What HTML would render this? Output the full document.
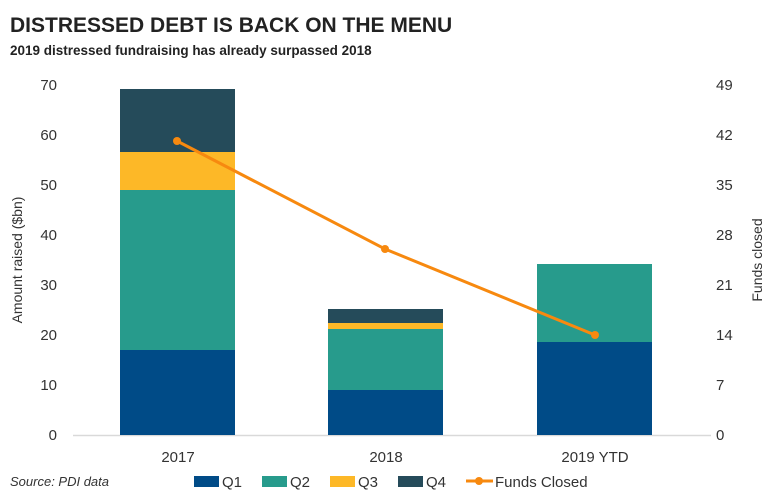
<!DOCTYPE html>
<html><head><style>
body{margin:0;background:#fff;}
svg text{font-family:"Liberation Sans",sans-serif;}
</style></head><body>
<svg width="768" height="497" viewBox="0 0 768 497" xmlns="http://www.w3.org/2000/svg">
<text x="10" y="32" font-size="21" font-weight="bold" fill="#222">DISTRESSED DEBT IS BACK ON THE MENU</text>
<text x="10" y="55" font-size="13.5" font-weight="bold" fill="#222">2019 distressed fundraising has already surpassed 2018</text>
<g font-size="15" fill="#333" text-anchor="end">
<text x="57" y="440">0</text><text x="57" y="390">10</text><text x="57" y="340">20</text><text x="57" y="290">30</text><text x="57" y="240">40</text><text x="57" y="190">50</text><text x="57" y="140">60</text><text x="57" y="90">70</text>
</g>
<g font-size="15" fill="#333" text-anchor="start">
<text x="716" y="440">0</text><text x="716" y="390">7</text><text x="716" y="340">14</text><text x="716" y="290">21</text><text x="716" y="240">28</text><text x="716" y="190">35</text><text x="716" y="140">42</text><text x="716" y="90">49</text>
</g>
<text transform="translate(22,260) rotate(-90)" font-size="14" fill="#333" text-anchor="middle">Amount raised ($bn)</text>
<text transform="translate(762,260) rotate(-90)" font-size="14" fill="#333" text-anchor="middle">Funds closed</text>
<line x1="73" y1="435.5" x2="711" y2="435.5" stroke="#d9d9d9" stroke-width="1.5"/>
<rect x="120" y="350" width="115" height="85" fill="#004b87"/>
<rect x="120" y="190" width="115" height="160" fill="#279b8c"/>
<rect x="120" y="152" width="115" height="38" fill="#fdb827"/>
<rect x="120" y="89" width="115" height="63" fill="#254b5a"/>
<rect x="328" y="390" width="115" height="45" fill="#004b87"/>
<rect x="328" y="329" width="115" height="61" fill="#279b8c"/>
<rect x="328" y="323" width="115" height="6" fill="#fdb827"/>
<rect x="328" y="309" width="115" height="14" fill="#254b5a"/>
<rect x="537" y="342" width="115" height="93" fill="#004b87"/>
<rect x="537" y="264" width="115" height="78" fill="#279b8c"/>
<polyline points="177,141 385,249 595,335" fill="none" stroke="#f7890f" stroke-width="3"/>
<circle cx="177" cy="141" r="4" fill="#f7890f"/><circle cx="385" cy="249" r="4" fill="#f7890f"/><circle cx="595" cy="335" r="4" fill="#f7890f"/>
<g font-size="15" fill="#333" text-anchor="middle">
<text x="178" y="462">2017</text><text x="386" y="462">2018</text><text x="595" y="462">2019 YTD</text>
</g>
<text x="10" y="486" font-size="13" font-style="italic" fill="#333">Source: PDI data</text>
<rect x="194" y="476" width="25" height="11" fill="#004b87"/><text x="222" y="487" font-size="15" fill="#333">Q1</text>
<rect x="262" y="476" width="25" height="11" fill="#279b8c"/><text x="290" y="487" font-size="15" fill="#333">Q2</text>
<rect x="330" y="476" width="25" height="11" fill="#fdb827"/><text x="358" y="487" font-size="15" fill="#333">Q3</text>
<rect x="398" y="476" width="25" height="11" fill="#254b5a"/><text x="426" y="487" font-size="15" fill="#333">Q4</text>
<line x1="466" y1="481" x2="493" y2="481" stroke="#f7890f" stroke-width="3"/><circle cx="479" cy="481" r="4" fill="#f7890f"/>
<text x="495" y="487" font-size="15" fill="#333">Funds Closed</text>
</svg>
</body></html>
